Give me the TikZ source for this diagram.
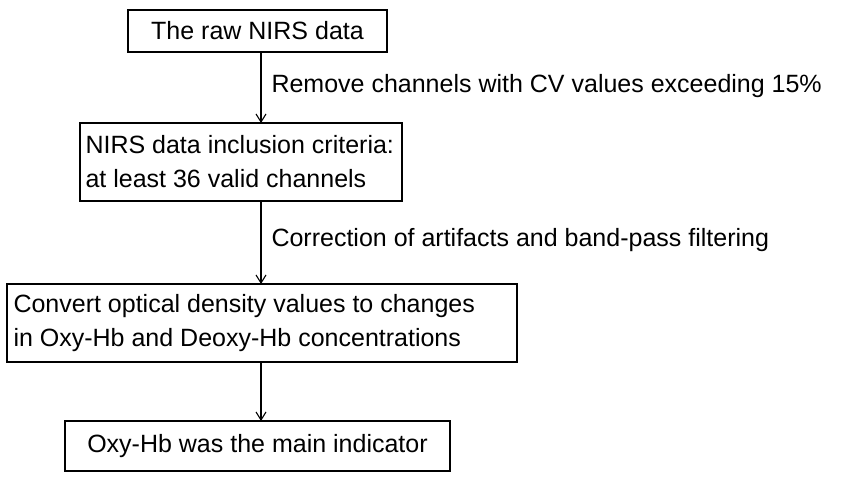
\documentclass[tikz,border=0pt]{standalone}
\usepackage{fontspec}
\setmainfont{Liberation Sans}
\usetikzlibrary{arrows.meta}
\begin{document}
\begin{tikzpicture}[x=1pt,y=-1pt,
  box/.style={draw,line width=1.3pt,inner sep=0pt},
  lbl/.style={anchor=west,font=\fontsize{25}{34}\selectfont},
  arr/.style={-{Straight Barb[length=8pt,width=10pt]},line width=1.1pt}]
\useasboundingbox (0,0) rectangle (851,481);
\node[box,minimum width=259pt,minimum height=42pt] (b1) at (257.5,31) {};
\node[lbl,anchor=center] at (b1) {The raw NIRS data};
\node[box,minimum width=322pt,minimum height=78pt] (b2) at (241,162) {};
\node[lbl,align=left] at (82,162) {NIRS data inclusion criteria:\\at least 36 valid channels};
\node[box,minimum width=510pt,minimum height=78pt] (b3) at (262,323) {};
\node[lbl,align=left] at (10,323) {Convert optical density values to changes\\in Oxy-Hb and Deoxy-Hb concentrations};
\node[box,minimum width=385pt,minimum height=50pt] (b4) at (257.5,446) {};
\node[lbl,anchor=center] at (b4) {Oxy-Hb was the main indicator};
\coordinate (a1) at (261,52); \coordinate (a1e) at (261,123);
\coordinate (a2) at (261,201); \coordinate (a2e) at (261,284);
\coordinate (a3) at (261,362); \coordinate (a3e) at (261,421);
\draw[arr] (a1) -- (a1e);
\draw[arr] (a2) -- (a2e);
\draw[arr] (a3) -- (a3e);
\node[lbl] at (268,86) {Remove channels with CV values exceeding 15\%};
\node[lbl] at (268,240) {Correction of artifacts and band-pass filtering};
\end{tikzpicture}
\end{document}
